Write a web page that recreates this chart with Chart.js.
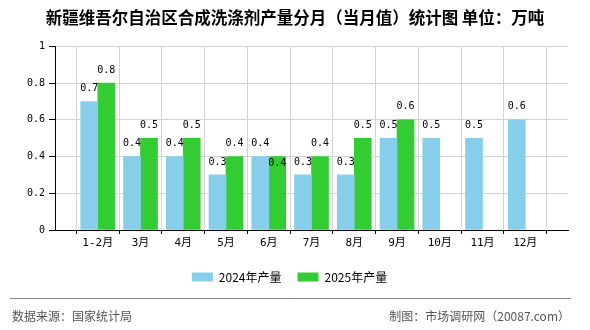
<!DOCTYPE html>
<html>
<head>
<meta charset="utf-8">
<script src="https://cdn.jsdelivr.net/npm/chart.js@4/dist/chart.umd.min.js"></script>
<style>
  html, body { margin: 0; padding: 0; background: #fff; }
  #wrap { width: 590px; height: 330px; }
</style>
</head>
<body>
<div id="wrap"><canvas id="chanliang"></canvas></div>
<script>
(() => {
  const months = ['1-2月', '3月', '4月', '5月', '6月', '7月', '8月', '9月', '10月', '11月', '12月'];
  const output2024 = [0.7, 0.4, 0.4, 0.3, 0.4, 0.3, 0.3, 0.5, 0.5, 0.5, 0.6];
  const output2025 = [0.8, 0.5, 0.5, 0.4, 0.4, 0.4, 0.5, 0.6, null, null, null];
  const yMin = 0;
  const yMax = 1;
  const yStep = 0.2;

  const titulo = '新疆维吾尔自治区合成洗涤剂产量分月（当月值）统计图 单位：万吨';
  const fuente = '数据来源：国家统计局';
  const autor = '制图：市场调研网（20087.com）';

  const monoFont = '"DejaVu Sans Mono", "Noto Sans CJK SC", monospace';
  const cjkFont = '"Noto Sans CJK SC", sans-serif';

  // empty slot at each end so the first and last month sit one step in from the frame
  const pad = (arr) => [null, ...arr, null];
  const labels = ['', ...months, ''];

  // value text over each bar; a label that would run into an earlier one goes just under the bar top
  const valueLabels = {
    id: 'valueLabels',
    afterDatasetsDraw(chart) {
      const ctx = chart.ctx;
      const placed = [];
      ctx.save();
      ctx.font = '10px ' + monoFont;
      ctx.textAlign = 'center';
      ctx.textBaseline = 'middle';
      ctx.fillStyle = '#000';
      chart.data.datasets.forEach((ds, i) => {
        chart.getDatasetMeta(i).data.forEach((bar, j) => {
          const v = ds.data[j];
          if (v == null) return;
          const text = String(v);
          const w = ctx.measureText(text).width;
          let y = bar.y - 13;
          const hit = placed.some((r) => Math.abs(r.x - bar.x) < (r.w + w) / 2 + 3 && Math.abs(r.y - y) < 12);
          if (hit) y = bar.y + 7;
          placed.push({ x: bar.x, y, w });
          ctx.fillText(text, bar.x, y);
        });
      });
      ctx.restore();
    }
  };

  // heading on top, source line under the legend
  const frameText = {
    id: 'frameText',
    afterDraw(chart) {
      const ctx = chart.ctx;
      ctx.save();
      ctx.font = 'bold 16.5px ' + cjkFont;
      ctx.fillStyle = '#000';
      ctx.textAlign = 'center';
      ctx.textBaseline = 'middle';
      ctx.fillText(titulo, 295, 18);

      ctx.strokeStyle = '#888';
      ctx.lineWidth = 1;
      ctx.beginPath();
      ctx.moveTo(10, 298.5);
      ctx.lineTo(571, 298.5);
      ctx.stroke();
      ctx.font = '12px ' + cjkFont;
      ctx.fillStyle = '#555';
      ctx.textAlign = 'left';
      ctx.fillText(fuente, 12, 316);
      ctx.textAlign = 'right';
      ctx.fillText(autor, 570, 316);
      ctx.restore();
    }
  };

  const graph = document.getElementById('chanliang');

  const myChart = new Chart(graph, {
    type: 'bar',
    data: {
      labels: labels,
      datasets: [{
        label: '2024年产量',
        data: pad(output2024),
        backgroundColor: '#87ceeb',
        borderWidth: 0,
        barThickness: 17
      }, {
        label: '2025年产量',
        data: pad(output2025),
        backgroundColor: '#33cc33',
        borderWidth: 0,
        barThickness: 17
      }]
    },
    options: {
      responsive: true,
      maintainAspectRatio: false,
      animation: false,
      layout: { padding: { left: 11, right: 22, top: 46.5, bottom: 37 } },
      plugins: {
        title: { display: false },
        legend: {
          position: 'bottom',
          labels: {
            boxWidth: 21,
            boxHeight: 9,
            padding: 16,
            color: '#000',
            font: { family: cjkFont, size: 12 }
          }
        },
        tooltip: { enabled: false }
      },
      scales: {
        x: {
          offset: false,
          border: { color: '#000', width: 1 },
          grid: { color: '#d3d3d3', tickColor: '#000', tickLength: 4 },
          ticks: { color: '#000', font: { family: monoFont, size: 11 }, padding: 3, autoSkip: false, maxRotation: 0 },
          afterFit: (s) => { s.height = 25; }
        },
        y: {
          min: yMin,
          max: yMax,
          border: { color: '#000', width: 1 },
          grid: { color: '#d3d3d3', tickColor: '#000', tickLength: 6 },
          ticks: {
            stepSize: yStep,
            color: '#000',
            font: { family: monoFont, size: 10 },
            padding: 4,
            callback: (v) => String(+v.toFixed(1))
          },
          afterFit: (s) => { s.width = 44; }
        }
      }
    },
    plugins: [valueLabels, frameText]
  });
})();
</script>
</body>
</html>
